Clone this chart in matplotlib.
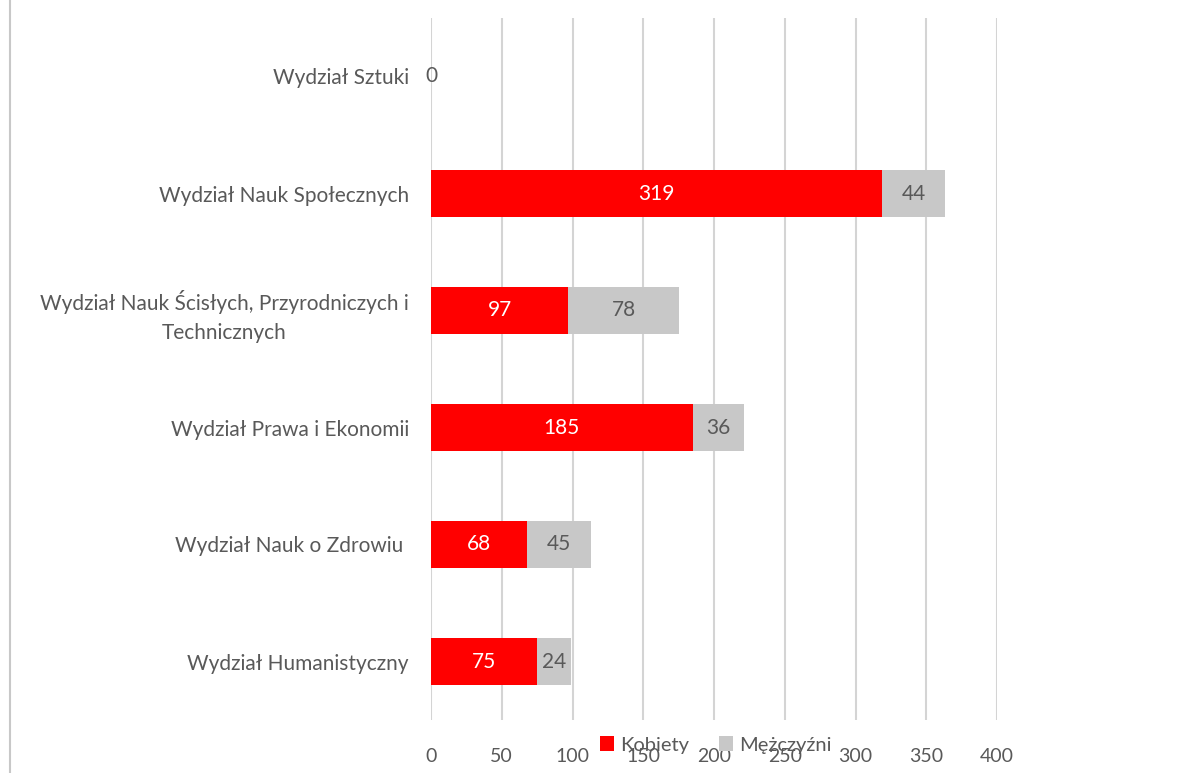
import matplotlib.pyplot as plt
from matplotlib.lines import Line2D

# data (top to bottom as in the chart)
wydzialy = [
    "Wydział Sztuki",
    "Wydział Nauk Społecznych",
    "Wydział Nauk Ścisłych, Przyrodniczych i\nTechnicznych",
    "Wydział Prawa i Ekonomii",
    "Wydział Nauk o Zdrowiu ",
    "Wydział Humanistyczny",
]
kobiety = [0, 319, 97, 185, 68, 75]
mezczyzni = [0, 44, 78, 36, 45, 24]

RED = "#ff0000"
GRAY = "#c8c8c8"
TXT = "#595959"

plt.rcParams["font.family"] = ["Lato", "DejaVu Sans"]

fig = plt.figure(figsize=(11.95, 7.73), dpi=100)
ax = fig.add_axes([431 / 1195, 1 - 720 / 773, 566 / 1195, 702 / 773])

y = list(range(len(wydzialy)))
b1 = ax.barh(y, kobiety, height=0.4, color=RED, label="Kobiety", zorder=3)
b2 = ax.barh(y, mezczyzni, left=kobiety, height=0.4, color=GRAY,
             label="Mężczyźni", zorder=3)

for rect, v in zip(b1, kobiety):
    if v > 0:
        ax.text(rect.get_x() + rect.get_width() / 2, rect.get_y() + rect.get_height() / 2,
                str(v), ha="center", va="center", color="white", fontsize=15, zorder=4)
for rect, v in zip(b2, mezczyzni):
    ax.text(rect.get_x() + rect.get_width() / 2, rect.get_y() + rect.get_height() / 2,
            str(v), ha="center", va="center", color=TXT, fontsize=15, zorder=4)

ax.set_xlim(0, 400)
ax.set_ylim(len(wydzialy) - 0.5, -0.5)
ax.set_xticks(range(0, 401, 50))
ax.set_yticks(y)
ax.set_yticklabels(wydzialy, multialignment="center", linespacing=1.55)
ax.tick_params(axis="both", length=0, colors=TXT)
ax.tick_params(axis="y", pad=16, labelsize=15)
ax.tick_params(axis="x", pad=20, labelsize=14)
ax.grid(axis="x", color="#d4d4d4", linewidth=1.5, zorder=0)
for s in ax.spines.values():
    s.set_visible(False)

fig.legend(loc="center", bbox_to_anchor=(716 / 1195, 1 - 745 / 773), ncol=2,
           frameon=False, fontsize=14.5, labelcolor=TXT, handlelength=0.7,
           handleheight=0.7, handletextpad=0.3, columnspacing=1.5)

fig.add_artist(Line2D([10 / 1195, 10 / 1195], [0, 1], color="#c8c8c8",
                      linewidth=1.5, transform=fig.transFigure))

fig.savefig("out.png", dpi=100)
